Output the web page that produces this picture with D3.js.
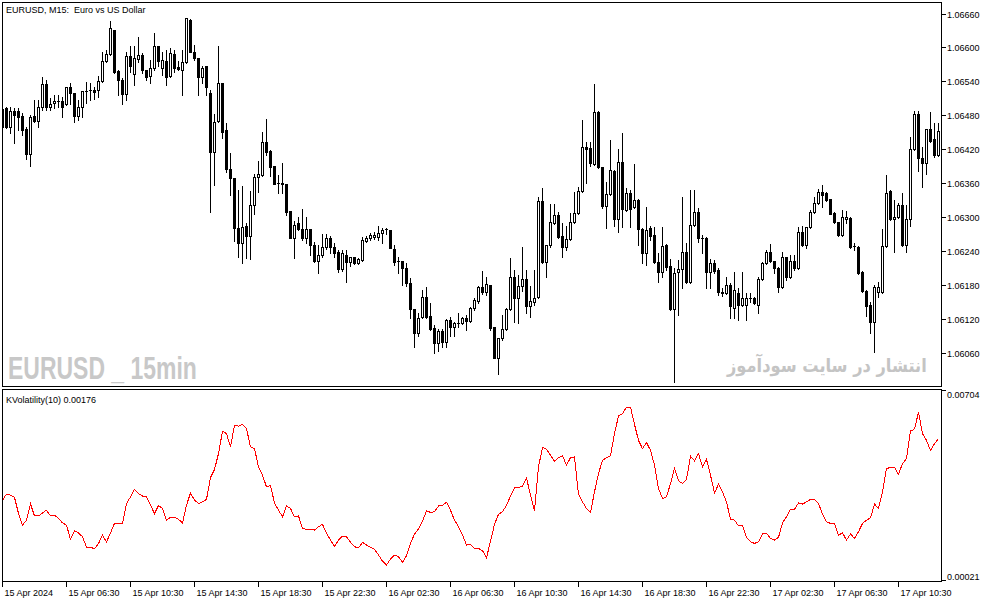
<!DOCTYPE html>
<html>
<head>
<meta charset="utf-8">
<script src="https://cdn.jsdelivr.net/npm/d3@7"></script>
<style>
html, body { margin: 0; padding: 0; background: #fff; }
svg { display: block; }
text { font-family: "Liberation Sans", Arial, sans-serif; font-size: 9px; fill: #000; }
</style>
</head>
<body>
<svg id="chart" width="994" height="603"></svg>
<script>
// EURUSD M15, 15 Apr 02:30 .. 17 Apr 11:00 (235 bars)
var open = [
  1.06492, 1.06494, 1.06460, 1.06488, 1.06488, 1.06480, 1.06457, 1.06412, 1.06480, 1.06471,
  1.06496, 1.06536, 1.06496, 1.06503, 1.06506, 1.06506, 1.06501, 1.06531, 1.06520, 1.06480,
  1.06496, 1.06524, 1.06526, 1.06526, 1.06526, 1.06542, 1.06577, 1.06589, 1.06632, 1.06559,
  1.06543, 1.06519, 1.06586, 1.06554, 1.06580, 1.06587, 1.06561, 1.06550, 1.06564, 1.06603,
  1.06564, 1.06577, 1.06550, 1.06589, 1.06566, 1.06561, 1.06575, 1.06649, 1.06593, 1.06582,
  1.06549, 1.06568, 1.06520, 1.06416, 1.06471, 1.06538, 1.06455, 1.06386, 1.06370, 1.06282,
  1.06255, 1.06285, 1.06267, 1.06322, 1.06372, 1.06375, 1.06434, 1.06418, 1.06391, 1.06361,
  1.06361, 1.06359, 1.06312, 1.06264, 1.06290, 1.06280, 1.06264, 1.06280, 1.06252, 1.06223,
  1.06234, 1.06248, 1.06264, 1.06248, 1.06239, 1.06209, 1.06234, 1.06222, 1.06230, 1.06220,
  1.06225, 1.06259, 1.06264, 1.06266, 1.06266, 1.06273, 1.06280, 1.06278, 1.06244, 1.06223,
  1.06223, 1.06211, 1.06184, 1.06138, 1.06096, 1.06124, 1.06160, 1.06126, 1.06105, 1.06078,
  1.06099, 1.06080, 1.06119, 1.06107, 1.06114, 1.06114, 1.06122, 1.06117, 1.06140, 1.06153,
  1.06177, 1.06168, 1.06181, 1.06107, 1.06052, 1.06087, 1.06103, 1.06138, 1.06195, 1.06158,
  1.06179, 1.06191, 1.06144, 1.06151, 1.06160, 1.06329, 1.06222, 1.06252, 1.06290, 1.06305,
  1.06267, 1.06248, 1.06262, 1.06292, 1.06308, 1.06347, 1.06425, 1.06423, 1.06395, 1.06487,
  1.06390, 1.06320, 1.06342, 1.06382, 1.06297, 1.06398, 1.06313, 1.06343, 1.06319, 1.06331,
  1.06280, 1.06237, 1.06282, 1.06269, 1.06222, 1.06204, 1.06252, 1.06214, 1.06138, 1.06204,
  1.06209, 1.06239, 1.06186, 1.06287, 1.06310, 1.06264, 1.06264, 1.06204, 1.06220, 1.06207,
  1.06168, 1.06167, 1.06181, 1.06140, 1.06167, 1.06145, 1.06145, 1.06158, 1.06158, 1.06145,
  1.06191, 1.06220, 1.06239, 1.06223, 1.06211, 1.06177, 1.06230, 1.06195, 1.06223, 1.06211,
  1.06274, 1.06252, 1.06283, 1.06310, 1.06326, 1.06345, 1.06343, 1.06333, 1.06308, 1.06292,
  1.06269, 1.06297, 1.06299, 1.06250, 1.06248, 1.06204, 1.06170, 1.06145, 1.06115, 1.06168,
  1.06168, 1.06250, 1.06347, 1.06297, 1.06301, 1.06322, 1.06252, 1.06297, 1.06421, 1.06483,
  1.06405, 1.06397, 1.06457, 1.06439, 1.06411
];
var high = [
  1.06497, 1.06496, 1.06496, 1.06494, 1.06494, 1.06485, 1.06460, 1.06481, 1.06508, 1.06508,
  1.06549, 1.06543, 1.06511, 1.06517, 1.06517, 1.06513, 1.06531, 1.06538, 1.06520, 1.06508,
  1.06524, 1.06540, 1.06538, 1.06531, 1.06550, 1.06593, 1.06596, 1.06648, 1.06632, 1.06561,
  1.06547, 1.06593, 1.06603, 1.06603, 1.06619, 1.06591, 1.06561, 1.06579, 1.06626, 1.06603,
  1.06593, 1.06596, 1.06600, 1.06596, 1.06577, 1.06596, 1.06653, 1.06651, 1.06605, 1.06582,
  1.06568, 1.06568, 1.06526, 1.06483, 1.06603, 1.06538, 1.06467, 1.06414, 1.06370, 1.06349,
  1.06356, 1.06290, 1.06347, 1.06377, 1.06400, 1.06451, 1.06474, 1.06420, 1.06391, 1.06375,
  1.06397, 1.06359, 1.06312, 1.06294, 1.06301, 1.06315, 1.06301, 1.06280, 1.06257, 1.06252,
  1.06271, 1.06271, 1.06267, 1.06255, 1.06243, 1.06243, 1.06243, 1.06230, 1.06230, 1.06229,
  1.06266, 1.06267, 1.06273, 1.06274, 1.06285, 1.06282, 1.06282, 1.06278, 1.06252, 1.06230,
  1.06223, 1.06220, 1.06193, 1.06138, 1.06131, 1.06172, 1.06177, 1.06149, 1.06110, 1.06103,
  1.06103, 1.06121, 1.06124, 1.06115, 1.06131, 1.06124, 1.06128, 1.06142, 1.06158, 1.06179,
  1.06206, 1.06195, 1.06181, 1.06107, 1.06087, 1.06128, 1.06140, 1.06229, 1.06207, 1.06199,
  1.06248, 1.06207, 1.06179, 1.06207, 1.06336, 1.06352, 1.06252, 1.06324, 1.06324, 1.06310,
  1.06290, 1.06285, 1.06308, 1.06345, 1.06354, 1.06473, 1.06434, 1.06434, 1.06536, 1.06488,
  1.06390, 1.06363, 1.06437, 1.06384, 1.06421, 1.06450, 1.06352, 1.06349, 1.06395, 1.06333,
  1.06282, 1.06319, 1.06285, 1.06283, 1.06237, 1.06283, 1.06253, 1.06227, 1.06211, 1.06225,
  1.06336, 1.06255, 1.06349, 1.06349, 1.06317, 1.06269, 1.06266, 1.06227, 1.06225, 1.06211,
  1.06176, 1.06195, 1.06184, 1.06204, 1.06176, 1.06204, 1.06167, 1.06167, 1.06160, 1.06195,
  1.06222, 1.06243, 1.06253, 1.06223, 1.06213, 1.06239, 1.06230, 1.06234, 1.06234, 1.06283,
  1.06285, 1.06283, 1.06313, 1.06336, 1.06351, 1.06358, 1.06345, 1.06333, 1.06310, 1.06292,
  1.06313, 1.06312, 1.06301, 1.06255, 1.06250, 1.06206, 1.06172, 1.06151, 1.06181, 1.06186,
  1.06280, 1.06375, 1.06349, 1.06331, 1.06326, 1.06343, 1.06322, 1.06443, 1.06488, 1.06488,
  1.06425, 1.06457, 1.06487, 1.06467, 1.06467
];
var low = [
  1.06458, 1.06458, 1.06450, 1.06432, 1.06455, 1.06446, 1.06404, 1.06391, 1.06469, 1.06460,
  1.06490, 1.06490, 1.06490, 1.06494, 1.06496, 1.06478, 1.06499, 1.06501, 1.06469, 1.06473,
  1.06478, 1.06503, 1.06508, 1.06510, 1.06513, 1.06540, 1.06575, 1.06587, 1.06556, 1.06517,
  1.06501, 1.06508, 1.06557, 1.06534, 1.06575, 1.06556, 1.06543, 1.06538, 1.06561, 1.06568,
  1.06552, 1.06534, 1.06549, 1.06557, 1.06561, 1.06517, 1.06573, 1.06593, 1.06579, 1.06517,
  1.06538, 1.06517, 1.06310, 1.06358, 1.06469, 1.06441, 1.06381, 1.06340, 1.06259, 1.06230,
  1.06220, 1.06229, 1.06227, 1.06306, 1.06345, 1.06374, 1.06411, 1.06374, 1.06359, 1.06343,
  1.06343, 1.06305, 1.06264, 1.06229, 1.06278, 1.06260, 1.06255, 1.06234, 1.06222, 1.06202,
  1.06230, 1.06244, 1.06237, 1.06230, 1.06204, 1.06206, 1.06186, 1.06214, 1.06218, 1.06218,
  1.06223, 1.06257, 1.06260, 1.06262, 1.06260, 1.06255, 1.06271, 1.06246, 1.06216, 1.06202,
  1.06181, 1.06179, 1.06122, 1.06071, 1.06091, 1.06122, 1.06122, 1.06101, 1.06061, 1.06064,
  1.06071, 1.06071, 1.06091, 1.06091, 1.06107, 1.06112, 1.06101, 1.06115, 1.06137, 1.06149,
  1.06165, 1.06163, 1.06101, 1.06052, 1.06023, 1.06084, 1.06101, 1.06137, 1.06115, 1.06114,
  1.06170, 1.06131, 1.06124, 1.06145, 1.06158, 1.06220, 1.06195, 1.06248, 1.06289, 1.06264,
  1.06230, 1.06243, 1.06260, 1.06290, 1.06306, 1.06345, 1.06361, 1.06391, 1.06393, 1.06388,
  1.06317, 1.06282, 1.06340, 1.06285, 1.06274, 1.06283, 1.06312, 1.06283, 1.06317, 1.06252,
  1.06220, 1.06216, 1.06260, 1.06220, 1.06186, 1.06195, 1.06207, 1.06137, 1.06009, 1.06128,
  1.06176, 1.06184, 1.06184, 1.06285, 1.06257, 1.06237, 1.06176, 1.06176, 1.06202, 1.06163,
  1.06161, 1.06165, 1.06122, 1.06122, 1.06119, 1.06144, 1.06119, 1.06151, 1.06147, 1.06131,
  1.06190, 1.06218, 1.06222, 1.06202, 1.06168, 1.06176, 1.06190, 1.06193, 1.06207, 1.06209,
  1.06250, 1.06246, 1.06282, 1.06308, 1.06324, 1.06319, 1.06329, 1.06306, 1.06290, 1.06267,
  1.06267, 1.06290, 1.06246, 1.06243, 1.06200, 1.06168, 1.06126, 1.06096, 1.06062, 1.06160,
  1.06167, 1.06248, 1.06296, 1.06239, 1.06299, 1.06250, 1.06239, 1.06285, 1.06420, 1.06382,
  1.06354, 1.06377, 1.06434, 1.06407, 1.06409
];
var close = [
  1.06460, 1.06460, 1.06488, 1.06481, 1.06478, 1.06455, 1.06412, 1.06478, 1.06471, 1.06496,
  1.06536, 1.06496, 1.06501, 1.06506, 1.06506, 1.06496, 1.06531, 1.06520, 1.06480, 1.06496,
  1.06524, 1.06524, 1.06526, 1.06522, 1.06542, 1.06577, 1.06589, 1.06635, 1.06557, 1.06543,
  1.06519, 1.06586, 1.06568, 1.06582, 1.06587, 1.06561, 1.06549, 1.06564, 1.06603, 1.06577,
  1.06579, 1.06549, 1.06591, 1.06564, 1.06563, 1.06575, 1.06653, 1.06593, 1.06582, 1.06549,
  1.06564, 1.06531, 1.06416, 1.06469, 1.06538, 1.06451, 1.06386, 1.06370, 1.06282, 1.06255,
  1.06283, 1.06267, 1.06322, 1.06372, 1.06377, 1.06434, 1.06416, 1.06390, 1.06359, 1.06361,
  1.06359, 1.06310, 1.06264, 1.06287, 1.06280, 1.06264, 1.06280, 1.06252, 1.06223, 1.06234,
  1.06248, 1.06264, 1.06248, 1.06237, 1.06209, 1.06237, 1.06222, 1.06230, 1.06220, 1.06227,
  1.06260, 1.06264, 1.06269, 1.06269, 1.06273, 1.06278, 1.06280, 1.06246, 1.06222, 1.06223,
  1.06211, 1.06184, 1.06138, 1.06096, 1.06122, 1.06160, 1.06124, 1.06103, 1.06078, 1.06099,
  1.06080, 1.06119, 1.06107, 1.06114, 1.06114, 1.06122, 1.06117, 1.06140, 1.06154, 1.06177,
  1.06168, 1.06183, 1.06105, 1.06052, 1.06087, 1.06103, 1.06138, 1.06195, 1.06158, 1.06179,
  1.06191, 1.06144, 1.06153, 1.06158, 1.06329, 1.06222, 1.06252, 1.06292, 1.06305, 1.06266,
  1.06248, 1.06262, 1.06292, 1.06308, 1.06347, 1.06425, 1.06421, 1.06397, 1.06487, 1.06390,
  1.06320, 1.06342, 1.06384, 1.06297, 1.06398, 1.06315, 1.06343, 1.06315, 1.06331, 1.06280,
  1.06237, 1.06278, 1.06267, 1.06222, 1.06204, 1.06250, 1.06213, 1.06138, 1.06202, 1.06209,
  1.06239, 1.06186, 1.06287, 1.06310, 1.06264, 1.06264, 1.06204, 1.06220, 1.06206, 1.06168,
  1.06167, 1.06181, 1.06144, 1.06172, 1.06145, 1.06158, 1.06158, 1.06158, 1.06149, 1.06191,
  1.06220, 1.06239, 1.06223, 1.06211, 1.06177, 1.06230, 1.06195, 1.06223, 1.06211, 1.06274,
  1.06252, 1.06283, 1.06310, 1.06326, 1.06345, 1.06340, 1.06331, 1.06306, 1.06292, 1.06269,
  1.06301, 1.06301, 1.06248, 1.06250, 1.06202, 1.06170, 1.06144, 1.06115, 1.06177, 1.06177,
  1.06250, 1.06343, 1.06297, 1.06301, 1.06322, 1.06252, 1.06297, 1.06421, 1.06483, 1.06405,
  1.06397, 1.06457, 1.06435, 1.06411, 1.06453
];
var kvol = [
  0.00309, 0.00331, 0.00327, 0.00319, 0.00261, 0.00219, 0.00237, 0.00295, 0.00252, 0.00252,
  0.00263, 0.00273, 0.00252, 0.00255, 0.00243, 0.00227, 0.00219, 0.00168, 0.00199, 0.00191,
  0.00177, 0.00139, 0.00139, 0.00134, 0.00153, 0.00182, 0.00158, 0.00191, 0.00225, 0.00225,
  0.00225, 0.00297, 0.00321, 0.00348, 0.00333, 0.00324, 0.00321, 0.00291, 0.00261, 0.00290,
  0.00279, 0.00237, 0.00247, 0.00247, 0.00240, 0.00227, 0.00291, 0.00335, 0.00309, 0.00297,
  0.00303, 0.00312, 0.00391, 0.00420, 0.00477, 0.00558, 0.00549, 0.00501, 0.00579, 0.00576,
  0.00583, 0.00567, 0.00501, 0.00495, 0.00429, 0.00399, 0.00357, 0.00362, 0.00299, 0.00273,
  0.00249, 0.00288, 0.00279, 0.00249, 0.00252, 0.00207, 0.00204, 0.00204, 0.00201, 0.00213,
  0.00222, 0.00189, 0.00165, 0.00143, 0.00165, 0.00179, 0.00177, 0.00157, 0.00141, 0.00137,
  0.00157, 0.00147, 0.00139, 0.00132, 0.00111, 0.00089, 0.00075, 0.00097, 0.00111, 0.00105,
  0.00085, 0.00109, 0.00153, 0.00187, 0.00205, 0.00234, 0.00270, 0.00265, 0.00267, 0.00288,
  0.00291, 0.00301, 0.00273, 0.00237, 0.00213, 0.00183, 0.00147, 0.00150, 0.00135, 0.00135,
  0.00127, 0.00101, 0.00161, 0.00222, 0.00258, 0.00267, 0.00291, 0.00324, 0.00353, 0.00355,
  0.00360, 0.00389, 0.00327, 0.00272, 0.00429, 0.00499, 0.00493, 0.00471, 0.00450, 0.00462,
  0.00469, 0.00435, 0.00463, 0.00465, 0.00330, 0.00303, 0.00279, 0.00265, 0.00339, 0.00405,
  0.00453, 0.00462, 0.00469, 0.00549, 0.00613, 0.00621, 0.00645, 0.00645, 0.00582, 0.00525,
  0.00495, 0.00517, 0.00489, 0.00435, 0.00351, 0.00315, 0.00321, 0.00369, 0.00423, 0.00379,
  0.00369, 0.00384, 0.00468, 0.00451, 0.00477, 0.00429, 0.00456, 0.00399, 0.00335, 0.00367,
  0.00339, 0.00303, 0.00240, 0.00237, 0.00216, 0.00219, 0.00175, 0.00159, 0.00153, 0.00159,
  0.00187, 0.00189, 0.00171, 0.00165, 0.00175, 0.00227, 0.00249, 0.00276, 0.00276, 0.00299,
  0.00295, 0.00303, 0.00312, 0.00312, 0.00297, 0.00259, 0.00231, 0.00225, 0.00225, 0.00183,
  0.00191, 0.00165, 0.00187, 0.00171, 0.00195, 0.00225, 0.00237, 0.00245, 0.00295, 0.00279,
  0.00339, 0.00423, 0.00427, 0.00427, 0.00402, 0.00441, 0.00459, 0.00559, 0.00564, 0.00627,
  0.00549, 0.00525, 0.00489, 0.00513, 0.00531
];
var priceTicks = [1.06660, 1.06600, 1.06540, 1.06480, 1.06420, 1.06360, 1.06300, 1.06240, 1.06180, 1.06120, 1.06060];
var volTicks = [0.00704, 0.00021];
var timeLabels = ["15 Apr 2024", "15 Apr 06:30", "15 Apr 10:30", "15 Apr 14:30", "15 Apr 18:30",
  "15 Apr 22:30", "16 Apr 02:30", "16 Apr 06:30", "16 Apr 10:30", "16 Apr 14:30",
  "16 Apr 18:30", "16 Apr 22:30", "17 Apr 02:30", "17 Apr 06:30", "17 Apr 10:30"];
var barsPerLabel = 16;

var svg = d3.select("#chart");
var W = 994, H = 603;
var left = 2, right = 941;
var pTop = 2, pBottom = 386, vTop = 389, vBottom = 581;

var x = d3.scaleLinear().domain([0, open.length - 1]).range([2.3, 938.3]);
var yP = d3.scaleLinear().domain([1.06060, 1.06660]).range([353.3, 14]);
var yV = d3.scaleLinear().domain([0.00021, 0.00704]).range([580, 390.7]);

function col(i) { return Math.floor(x(i)); }

svg.append("rect").attr("width", W).attr("height", H).attr("fill", "#fff");

var defs = svg.append("defs");
defs.append("clipPath").attr("id", "clipP").append("rect")
  .attr("x", left + 1).attr("y", pTop + 1).attr("width", right - left - 1).attr("height", pBottom - pTop - 1);
defs.append("clipPath").attr("id", "clipV").append("rect")
  .attr("x", left + 1).attr("y", vTop + 1).attr("width", right - left - 1).attr("height", vBottom - vTop - 1);

// watermark text squeezed to a fixed width (transform, so its box really is that wide)
function watermark(str, x0, y0, w, family, size, color) {
  var t = svg.append("text")
    .style("font-family", family).style("font-size", size + "px")
    .style("font-weight", "bold").style("fill", color).style("white-space", "pre")
    .text(str);
  var nat = t.node().getComputedTextLength() || w;
  t.attr("transform", "translate(" + x0 + "," + y0 + ") scale(" + (w / nat) + ",1)");
  return t;
}
watermark("EURUSD _ 15min", 8, 379, 189, "'Liberation Sans Narrow', 'Liberation Sans', Arial, sans-serif", 31, "#c8c8c8");
watermark("انتشار در سایت سودآموز", 727, 372, 200, "'DejaVu Sans', sans-serif", 19, "#c4c4c4");

var candles = svg.append("g").attr("clip-path", "url(#clipP)").attr("shape-rendering", "crispEdges");
var bars = candles.selectAll("g.bar").data(d3.range(open.length)).enter().append("g").attr("class", "bar");

bars.append("line")
  .attr("x1", function (i) { return col(i) + 0.5; })
  .attr("x2", function (i) { return col(i) + 0.5; })
  .attr("y1", function (i) { return Math.round(yP(high[i])); })
  .attr("y2", function (i) { return Math.round(yP(low[i])) + 1; })
  .attr("stroke", "#000").attr("stroke-width", 1);

bars.append("rect")
  .each(function (i) {
    var t = Math.round(yP(Math.max(open[i], close[i])));
    var b = Math.round(yP(Math.min(open[i], close[i])));
    var r = d3.select(this);
    if (close[i] > open[i] && b > t) {
      r.attr("x", col(i) - 0.5).attr("y", t + 0.5).attr("width", 2).attr("height", b - t)
        .attr("fill", "#fff").attr("stroke", "#000").attr("stroke-width", 1);
    } else {
      r.attr("x", col(i) - 1).attr("y", t).attr("width", 3).attr("height", Math.max(b - t + 1, 1))
        .attr("fill", "#000");
    }
  });

// KVolatility line
var line = d3.line()
  .x(function (d, i) { return col(i) + 0.5; })
  .y(function (d) { return yV(d); });
svg.append("g").attr("clip-path", "url(#clipV)")
  .append("path").datum(kvol)
  .attr("d", line)
  .attr("fill", "none").attr("stroke", "#ff0000").attr("stroke-width", 1)
  .attr("shape-rendering", "crispEdges");

// panel frames
var frames = svg.append("g").attr("shape-rendering", "crispEdges").attr("fill", "none").attr("stroke", "#000");
frames.append("rect").attr("x", left + 0.5).attr("y", pTop + 0.5).attr("width", right - left).attr("height", pBottom - pTop);
frames.append("rect").attr("x", left + 0.5).attr("y", vTop + 0.5).attr("width", right - left).attr("height", vBottom - vTop);

// price scale
var pAxis = svg.append("g").attr("shape-rendering", "crispEdges");
priceTicks.forEach(function (p) {
  var ty = Math.floor(yP(p)) + 0.5;
  pAxis.append("line").attr("x1", right + 1).attr("x2", right + 5).attr("y1", ty).attr("y2", ty).attr("stroke", "#000");
  pAxis.append("text").attr("x", right + 6).attr("y", ty + 3.5).text(p.toFixed(5));
});

volTicks.forEach(function (v) {
  var ty = Math.floor(yV(v)) + 0.5;
  pAxis.append("line").attr("x1", right + 1).attr("x2", right + 5).attr("y1", ty).attr("y2", ty).attr("stroke", "#000");
  var cy = Math.max(vTop + 5, Math.min(vBottom - 5, ty));
  pAxis.append("text").attr("x", right + 6).attr("y", cy + 3.5).text(v.toFixed(5));
});

// time scale
var tAxis = svg.append("g").attr("shape-rendering", "crispEdges");
timeLabels.forEach(function (lbl, k) {
  var tx = col(k * barsPerLabel) + 0.5;
  tAxis.append("line").attr("x1", tx).attr("x2", tx).attr("y1", vBottom + 1).attr("y2", vBottom + 6).attr("stroke", "#000");
  tAxis.append("text").attr("x", tx + 2).attr("y", 595.5).text(lbl);
});

svg.append("text").attr("x", 6).attr("y", 12.5).style("white-space", "pre").text("EURUSD, M15:  Euro vs US Dollar");
svg.append("text").attr("x", 6).attr("y", 402.5).text("KVolatility(10) 0.00176");
</script>
</body>
</html>
